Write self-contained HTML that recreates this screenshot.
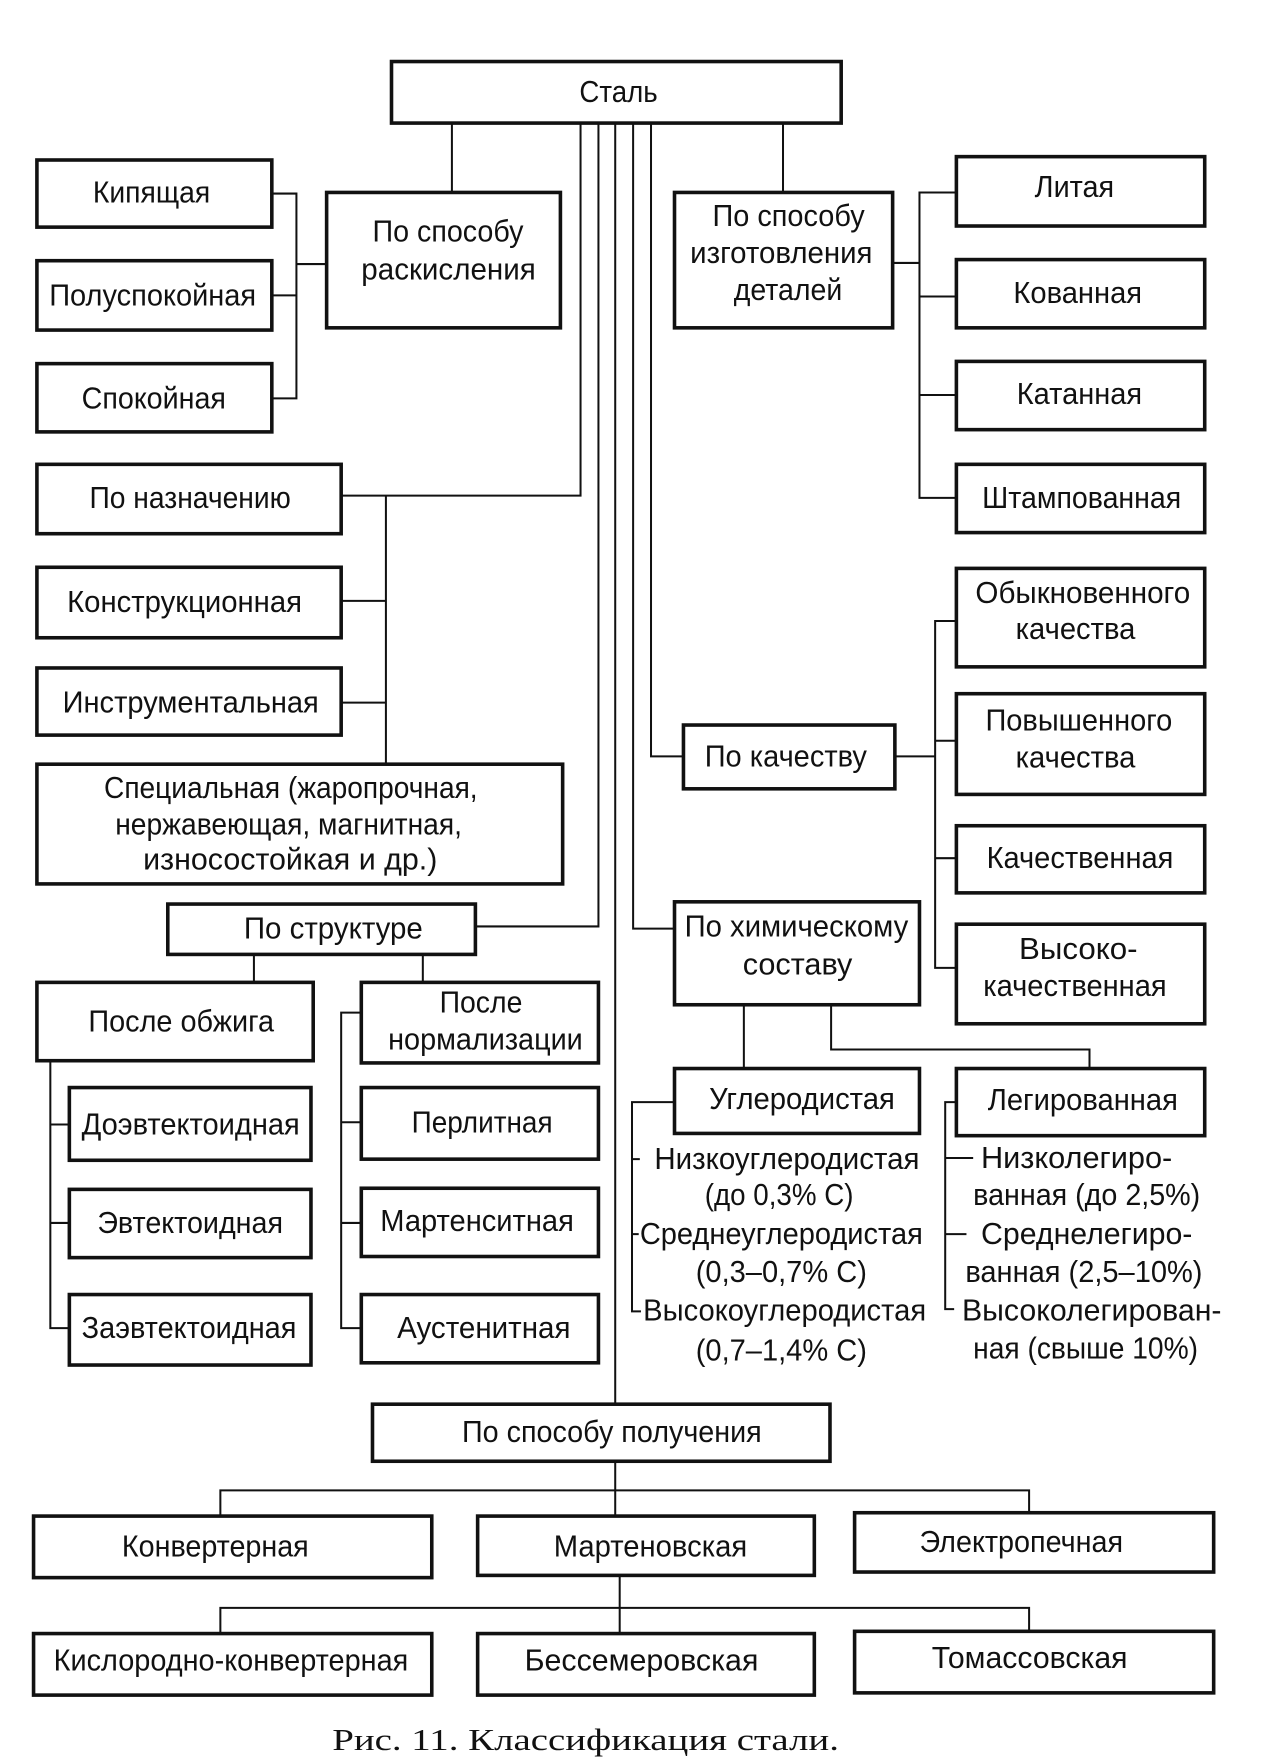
<!DOCTYPE html>
<html><head><meta charset="utf-8"><style>
html,body{margin:0;padding:0;background:#fff;}
svg{display:block;}
text{font-family:"Liberation Sans Narrow","Liberation Sans",sans-serif;font-size:27px;fill:#111;}
.c{font-family:"Liberation Serif",serif;font-size:27px;}
</style></head><body>
<svg width="1264" height="1760" viewBox="0 0 1130 1573" preserveAspectRatio="none" xmlns="http://www.w3.org/2000/svg">
<g fill="none" stroke="#111" stroke-width="3.2">
<rect x="350" y="55" width="402" height="55"/>
<rect x="33" y="143" width="210" height="60"/>
<rect x="33" y="233" width="210" height="62"/>
<rect x="33" y="325" width="210" height="61"/>
<rect x="292" y="172" width="209" height="121"/>
<rect x="603" y="172" width="195" height="121"/>
<rect x="855" y="140" width="222" height="62"/>
<rect x="855" y="232" width="222" height="61"/>
<rect x="855" y="323" width="222" height="61"/>
<rect x="855" y="415" width="222" height="61"/>
<rect x="33" y="415" width="272" height="62"/>
<rect x="33" y="507" width="272" height="63"/>
<rect x="33" y="597" width="272" height="60"/>
<rect x="33" y="683" width="470" height="107"/>
<rect x="150" y="808" width="275" height="45"/>
<rect x="33" y="878" width="247" height="70"/>
<rect x="323" y="878" width="212" height="72"/>
<rect x="62" y="972" width="216" height="65"/>
<rect x="62" y="1063" width="216" height="61"/>
<rect x="62" y="1157" width="216" height="63"/>
<rect x="323" y="972" width="212" height="64"/>
<rect x="323" y="1062" width="212" height="61"/>
<rect x="323" y="1157" width="212" height="61"/>
<rect x="611" y="648" width="189" height="57"/>
<rect x="855" y="508" width="222" height="88"/>
<rect x="855" y="620" width="222" height="90"/>
<rect x="855" y="738" width="222" height="60"/>
<rect x="855" y="826" width="222" height="89"/>
<rect x="603" y="806" width="219" height="92"/>
<rect x="603" y="955" width="219" height="58"/>
<rect x="855" y="955" width="222" height="60"/>
<rect x="333" y="1255" width="409" height="51"/>
<rect x="30" y="1355" width="356" height="55"/>
<rect x="427" y="1355" width="301" height="53"/>
<rect x="764" y="1352" width="321" height="53"/>
<rect x="30" y="1460" width="356" height="55"/>
<rect x="427" y="1460" width="301" height="55"/>
<rect x="764" y="1458" width="321" height="55"/>
</g>
<g fill="none" stroke="#111" stroke-width="1.8">
<path d="M404 110V172M700 110V172"/>
<path d="M519 110V443H305M535 110V828H425M550 110V1255M566 110V830H603M582 110V676H611"/>
<path d="M243 173H265V356H243M243 264H265M265 236H292"/>
<path d="M798 235H822M855 172H822V445H855M822 265H855M822 353H855"/>
<path d="M345 443V683M305 537H345M305 628H345"/>
<path d="M227 853V878M378 853V878"/>
<path d="M45 948V1187H62M45 1005H62M45 1093H62"/>
<path d="M323 905H305V1187H323M305 1003H323M305 1093H323"/>
<path d="M800 676H836M855 555H836V865H855M836 662H855M836 767H855"/>
<path d="M665 898V955M743 898V938H974V955"/>
<path d="M603 985H565V1172H573M565 1036H572M565 1103H571"/>
<path d="M855 985H845V1170H853M845 1035H870M845 1103H864"/>
<path d="M550 1306V1355M197 1355V1332H920V1352"/>
<path d="M554 1408V1460M197 1460V1437H920V1458"/>
</g>
<g>
<text x="518" y="91" textLength="70" lengthAdjust="spacingAndGlyphs">Сталь</text>
<text x="83" y="181" textLength="105" lengthAdjust="spacingAndGlyphs">Кипящая</text>
<text x="44" y="273" textLength="185" lengthAdjust="spacingAndGlyphs">Полуспокойная</text>
<text x="73" y="365" textLength="129" lengthAdjust="spacingAndGlyphs">Спокойная</text>
<text x="333" y="216" textLength="135" lengthAdjust="spacingAndGlyphs">По способу</text>
<text x="323" y="250" textLength="156" lengthAdjust="spacingAndGlyphs">раскисления</text>
<text x="637" y="202" textLength="136" lengthAdjust="spacingAndGlyphs">По способу</text>
<text x="617" y="235" textLength="163" lengthAdjust="spacingAndGlyphs">изготовления</text>
<text x="656" y="268" textLength="97" lengthAdjust="spacingAndGlyphs">деталей</text>
<text x="925" y="176" textLength="71" lengthAdjust="spacingAndGlyphs">Литая</text>
<text x="906" y="271" textLength="115" lengthAdjust="spacingAndGlyphs">Кованная</text>
<text x="909" y="361" textLength="112" lengthAdjust="spacingAndGlyphs">Катанная</text>
<text x="878" y="454" textLength="178" lengthAdjust="spacingAndGlyphs">Штампованная</text>
<text x="80" y="454" textLength="180" lengthAdjust="spacingAndGlyphs">По назначению</text>
<text x="60" y="547" textLength="210" lengthAdjust="spacingAndGlyphs">Конструкционная</text>
<text x="56" y="637" textLength="229" lengthAdjust="spacingAndGlyphs">Инструментальная</text>
<text x="93" y="713" textLength="334" lengthAdjust="spacingAndGlyphs">Специальная (жаропрочная,</text>
<text x="103" y="746" textLength="310" lengthAdjust="spacingAndGlyphs">нержавеющая, магнитная,</text>
<text x="128" y="777" textLength="263" lengthAdjust="spacingAndGlyphs">износостойкая и др.)</text>
<text x="218" y="839" textLength="160" lengthAdjust="spacingAndGlyphs">По структуре</text>
<text x="79" y="922" textLength="166" lengthAdjust="spacingAndGlyphs">После обжига</text>
<text x="393" y="905" textLength="74" lengthAdjust="spacingAndGlyphs">После</text>
<text x="347" y="938" textLength="174" lengthAdjust="spacingAndGlyphs">нормализации</text>
<text x="73" y="1014" textLength="195" lengthAdjust="spacingAndGlyphs">Доэвтектоидная</text>
<text x="87" y="1102" textLength="166" lengthAdjust="spacingAndGlyphs">Эвтектоидная</text>
<text x="73" y="1196" textLength="192" lengthAdjust="spacingAndGlyphs">Заэвтектоидная</text>
<text x="368" y="1012" textLength="126" lengthAdjust="spacingAndGlyphs">Перлитная</text>
<text x="340" y="1100" textLength="173" lengthAdjust="spacingAndGlyphs">Мартенситная</text>
<text x="355" y="1196" textLength="155" lengthAdjust="spacingAndGlyphs">Аустенитная</text>
<text x="630" y="685" textLength="145" lengthAdjust="spacingAndGlyphs">По качеству</text>
<text x="872" y="539" textLength="192" lengthAdjust="spacingAndGlyphs">Обыкновенного</text>
<text x="908" y="571" textLength="107" lengthAdjust="spacingAndGlyphs">качества</text>
<text x="881" y="653" textLength="167" lengthAdjust="spacingAndGlyphs">Повышенного</text>
<text x="908" y="686" textLength="107" lengthAdjust="spacingAndGlyphs">качества</text>
<text x="882" y="776" textLength="167" lengthAdjust="spacingAndGlyphs">Качественная</text>
<text x="911" y="857" textLength="106" lengthAdjust="spacingAndGlyphs">Высоко-</text>
<text x="879" y="890" textLength="164" lengthAdjust="spacingAndGlyphs">качественная</text>
<text x="612" y="837" textLength="200" lengthAdjust="spacingAndGlyphs">По химическому</text>
<text x="664" y="871" textLength="98" lengthAdjust="spacingAndGlyphs">составу</text>
<text x="634" y="991" textLength="166" lengthAdjust="spacingAndGlyphs">Углеродистая</text>
<text x="883" y="992" textLength="170" lengthAdjust="spacingAndGlyphs">Легированная</text>
<text x="585" y="1045" textLength="237" lengthAdjust="spacingAndGlyphs">Низкоуглеродистая</text>
<text x="630" y="1077" textLength="133" lengthAdjust="spacingAndGlyphs">(до 0,3% С)</text>
<text x="572" y="1112" textLength="253" lengthAdjust="spacingAndGlyphs">Среднеуглеродистая</text>
<text x="622" y="1146" textLength="153" lengthAdjust="spacingAndGlyphs">(0,3–0,7% С)</text>
<text x="575" y="1180" textLength="253" lengthAdjust="spacingAndGlyphs">Высокоуглеродистая</text>
<text x="622" y="1216" textLength="153" lengthAdjust="spacingAndGlyphs">(0,7–1,4% С)</text>
<text x="877" y="1044" textLength="171" lengthAdjust="spacingAndGlyphs">Низколегиро-</text>
<text x="870" y="1077" textLength="203" lengthAdjust="spacingAndGlyphs">ванная (до 2,5%)</text>
<text x="877" y="1112" textLength="189" lengthAdjust="spacingAndGlyphs">Среднелегиро-</text>
<text x="863" y="1146" textLength="212" lengthAdjust="spacingAndGlyphs">ванная (2,5–10%)</text>
<text x="860" y="1180" textLength="232" lengthAdjust="spacingAndGlyphs">Высоколегирован-</text>
<text x="870" y="1214" textLength="201" lengthAdjust="spacingAndGlyphs">ная (свыше 10%)</text>
<text x="413" y="1289" textLength="268" lengthAdjust="spacingAndGlyphs">По способу получения</text>
<text x="109" y="1391" textLength="167" lengthAdjust="spacingAndGlyphs">Конвертерная</text>
<text x="495" y="1391" textLength="173" lengthAdjust="spacingAndGlyphs">Мартеновская</text>
<text x="822" y="1387" textLength="182" lengthAdjust="spacingAndGlyphs">Электропечная</text>
<text x="48" y="1493" textLength="317" lengthAdjust="spacingAndGlyphs">Кислородно-конвертерная</text>
<text x="469" y="1493" textLength="209" lengthAdjust="spacingAndGlyphs">Бессемеровская</text>
<text x="833" y="1491" textLength="175" lengthAdjust="spacingAndGlyphs">Томассовская</text>
<text class="c" x="297" y="1564" textLength="453" lengthAdjust="spacingAndGlyphs">Рис. 11. Классификация стали.</text>
</g>
</svg>
</body></html>
